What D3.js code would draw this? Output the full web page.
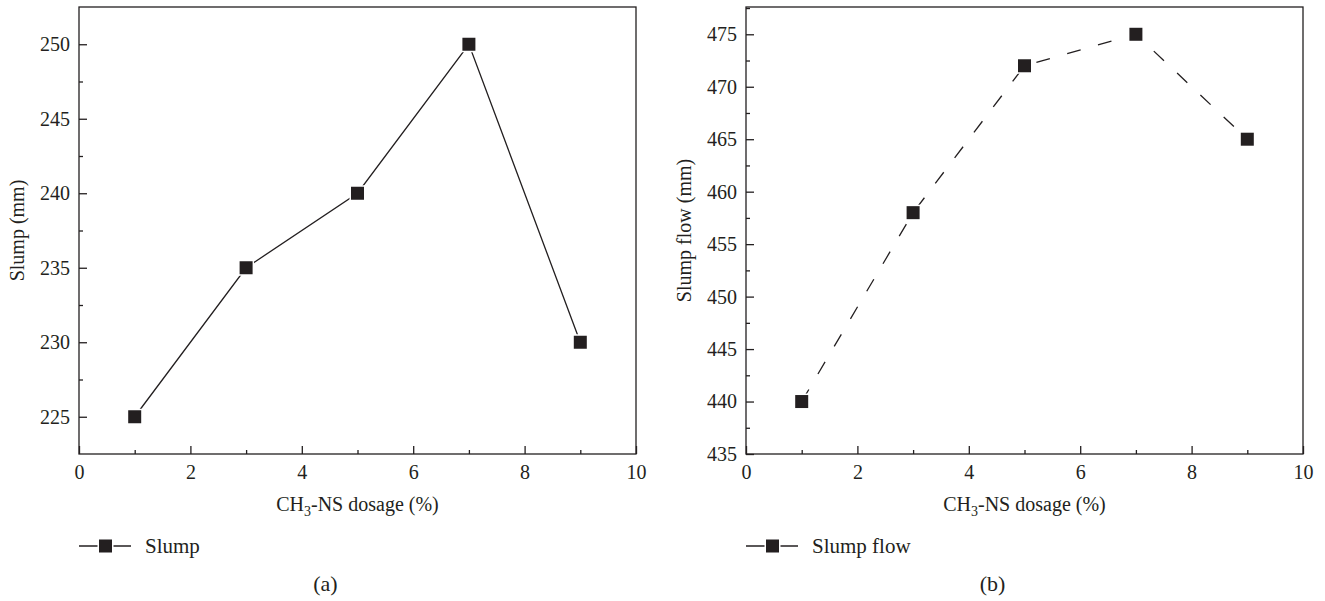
<!DOCTYPE html>
<html>
<head>
<meta charset="utf-8">
<script src="https://cdn.jsdelivr.net/npm/d3@7"></script>
<style>
  body { margin: 0; background: #fff; }
  text { font-family: "Liberation Serif", "DejaVu Serif", serif; fill: #231f20; }
</style>
</head>
<body>
<script>
"use strict";

// Data

let dosage = [1, 3, 5, 7, 9];
let slump = [225, 235, 240, 250, 230];
let slumpFlow = [440, 458, 472, 475, 465];

let xTicks = [0, 2, 4, 6, 8, 10];
let slumpTicks = [225, 230, 235, 240, 245, 250];
let flowTicks = [435, 440, 445, 450, 455, 460, 465, 470, 475];

let ink = "#231f20";

let svg = d3.select("body").append("svg")
    .attr("width", 1325)
    .attr("height", 601);

function panel(opt) {
    let {left, right, top, bottom} = opt;
    let width = right - left;
    let height = bottom - top;

    let xScale = d3.scaleLinear().domain([0, 10]).range([0, width]);
    let yScale = d3.scaleLinear().domain(opt.yDomain).range([height, 0]);

    let g = svg.append("g")
        .attr("transform", `translate(${left}, ${top})`);

    // frame
    g.append("rect")
        .attr("width", width)
        .attr("height", height)
        .attr("fill", "none")
        .attr("stroke", ink)
        .attr("stroke-width", 1.3);

    // minor ticks
    let minorX = d3.range(1, 10, 2);
    let minorY = opt.yTicks.map(d => d + 2.5)
        .filter(d => d < opt.yDomain[1]);

    g.append("g")
        .attr("transform", `translate(0, ${height})`)
        .call(d3.axisBottom(xScale).tickValues(minorX).tickSize(-4).tickFormat(""));
    g.append("g")
        .call(d3.axisLeft(yScale).tickValues(minorY).tickSize(-4).tickFormat(""));

    // major ticks
    g.append("g")
        .attr("class", "xaxis")
        .attr("transform", `translate(0, ${height})`)
        .call(d3.axisBottom(xScale).tickValues(xTicks).tickSize(-8).tickPadding(11).tickFormat(d3.format("d")));
    g.append("g")
        .attr("class", "yaxis")
        .call(d3.axisLeft(yScale).tickValues(opt.yTicks).tickSize(-8).tickPadding(9).tickFormat(d3.format("d")));

    g.selectAll(".domain").remove();
    g.selectAll(".tick line")
        .attr("stroke", ink)
        .attr("stroke-width", 1.3);
    g.selectAll(".tick text")
        .style("font-family", "'Liberation Serif', serif")
        .style("font-size", "20px")
        .attr("fill", ink);

    // line
    let line = d3.line()
        .x((d, i) => xScale(dosage[i]))
        .y(d => yScale(d));

    g.append("path")
        .datum(opt.values)
        .attr("d", line)
        .attr("fill", "none")
        .attr("stroke", ink)
        .attr("stroke-width", 1.3)
        .attr("stroke-dasharray", opt.dash);

    let s = 13;
    g.selectAll(".marker")
        .data(opt.values)
        .join("rect")
        .attr("x", (d, i) => xScale(dosage[i]) - s / 2)
        .attr("y", d => yScale(d) - s / 2)
        .attr("width", s)
        .attr("height", s)
        .attr("fill", ink)
        .attr("stroke", "#fff")
        .attr("stroke-width", 3)
        .attr("paint-order", "stroke");

    // axis labels
    g.append("text")
        .attr("transform", `translate(${opt.yLabelX - left}, ${height / 2}) rotate(-90)`)
        .attr("text-anchor", "middle")
        .style("font-size", "20px")
        .text(opt.yLabel);

    let xl = g.append("text")
        .attr("x", width / 2)
        .attr("y", height + 57)
        .attr("text-anchor", "middle")
        .style("font-size", "20px");
    xl.append("tspan").text("CH");
    xl.append("tspan").text("3").attr("dy", 5).style("font-size", "14px");
    xl.append("tspan").text("-NS dosage (%)").attr("dy", -5);

    // legend
    let ly = 546 - top;
    let lg = g.append("g").attr("transform", `translate(0, ${ly})`);
    lg.append("line")
        .attr("x1", 0).attr("x2", 52)
        .attr("stroke", ink).attr("stroke-width", 1.3);
    lg.append("rect")
        .attr("x", 20).attr("y", -6.5)
        .attr("width", 13).attr("height", 13)
        .attr("fill", ink)
        .attr("stroke", "#fff")
        .attr("stroke-width", 3)
        .attr("paint-order", "stroke");
    lg.append("text")
        .attr("x", 66)
        .attr("y", 7)
        .style("font-size", "21px")
        .text(opt.legend);

    // panel tag
    g.append("text")
        .attr("x", width / 2 - 32)
        .attr("y", 591 - top)
        .attr("text-anchor", "middle")
        .style("font-size", "22px")
        .text(opt.tag);
}

panel({
    left: 79, right: 636, top: 7, bottom: 454,
    yDomain: [222.5, 252.5],
    yTicks: slumpTicks,
    values: slump,
    dash: null,
    yLabel: "Slump (mm)",
    yLabelX: 24,
    legend: "Slump",
    tag: "(a)"
});

panel({
    left: 746, right: 1303, top: 7, bottom: 454,
    yDomain: [435, 477.6],
    yTicks: flowTicks,
    values: slumpFlow,
    dash: "14,18",
    yLabel: "Slump flow (mm)",
    yLabelX: 691,
    legend: "Slump flow",
    tag: "(b)"
});
</script>
</body>
</html>
